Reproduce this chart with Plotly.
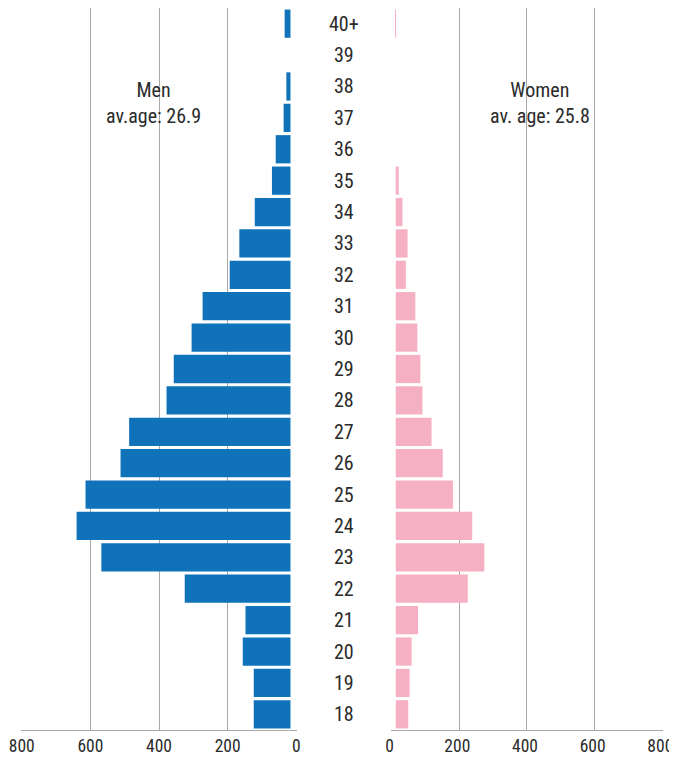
import plotly.graph_objects as go

ages = ["18", "19", "20", "21", "22", "23", "24", "25", "26", "27", "28", "29",
        "30", "31", "32", "33", "34", "35", "36", "37", "38", "39", "40+"]
men = [107, 107, 139, 131, 308, 551, 623, 597, 495, 470, 361, 340,
       288, 256, 177, 149, 104, 54, 43, 20, 12, 0, 17]
women = [37, 41, 47, 66, 213, 262, 226, 169, 139, 106, 79, 73,
         64, 58, 30, 35, 20, 9, 0, 0, 0, 0, 0.5]
x_ticks = [0, 200, 400, 600, 800]
men_label = ["Men", "av.age: 26.9"]
women_label = ["Women", "av. age: 25.8"]

FONT = "Roboto Condensed, Roboto, sans-serif"
TXT = "#2b2b2b"
GRID = "#a8a8a8"
MEN_C = "#1072b9"
WOMEN_C = "#f6b0c3"
FS = 20

fig = go.Figure()
fig.add_trace(go.Bar(y=list(range(len(ages))), x=men, base=17, orientation="h",
                     marker_color=MEN_C, marker_line_width=0, xaxis="x", yaxis="y",
                     showlegend=False))
fig.add_trace(go.Bar(y=list(range(len(ages))), x=women, base=12, orientation="h",
                     marker_color=WOMEN_C, marker_line_width=0, xaxis="x2", yaxis="y2",
                     showlegend=False))

axis_common = dict(tickvals=x_ticks, ticktext=[str(v) for v in x_ticks],
                   showgrid=True, gridcolor=GRID, gridwidth=1, zeroline=False,
                   showline=True, linecolor=GRID, linewidth=1, ticks="",
                   ticklabeloverflow="allow", automargin=False,
                   tickfont=dict(family=FONT, size=17.5, color=TXT), fixedrange=True)
y_common = dict(showticklabels=False, showgrid=False, zeroline=False, ticks="",
                showline=False, range=[-0.5, len(ages) - 0.5], automargin=False)

fig.update_layout(
    width=669, height=755,
    margin=dict(l=13, r=14, t=0, b=33, autoexpand=False),
    plot_bgcolor="white", paper_bgcolor="white",
    bargap=0.1,
    xaxis=dict(domain=[0, 0.4299], range=[802, -2], **axis_common),
    xaxis2=dict(domain=[0.5763, 1], range=[-2, 802], ticklabelshift=-2, **axis_common),
    yaxis=dict(anchor="x", **y_common),
    yaxis2=dict(anchor="x2", **y_common),
)

annotations = []
for i, a in enumerate(ages):
    annotations.append(dict(x=0.503, xref="paper", y=i, yref="y", text=a,
                            showarrow=False, xanchor="center", yanchor="middle",
                            font=dict(family=FONT, size=FS, color=TXT)))
annotations.append(dict(x=417, xref="x", y=0.868, yref="paper",
                        text="<br>".join(men_label), showarrow=False,
                        xanchor="center", yanchor="middle",
                        font=dict(family=FONT, size=FS, color=TXT)))
annotations.append(dict(x=438, xref="x2", y=0.868, yref="paper",
                        text="<br>".join(women_label), showarrow=False,
                        xanchor="center", yanchor="middle",
                        font=dict(family=FONT, size=FS, color=TXT)))
fig.update_layout(annotations=annotations)

fig.write_html("out.html")
